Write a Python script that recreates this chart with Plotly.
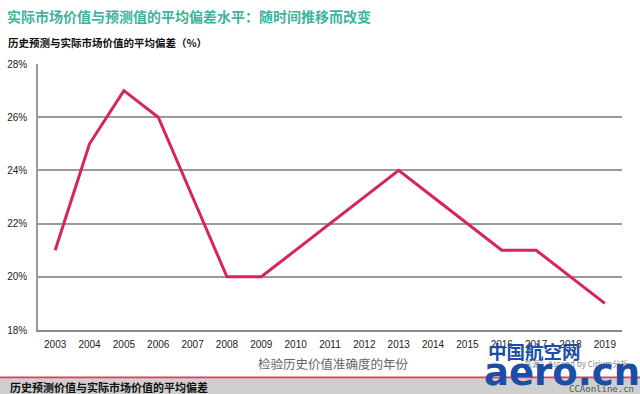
import plotly.graph_objects as go

years = ["2003", "2004", "2005", "2006", "2007", "2008", "2009", "2010", "2011",
         "2012", "2013", "2014", "2015", "2016", "2017", "2018", "2019"]
deviation = [21, 25, 27, 26, 23, 20, 20, 21, 22, 23, 24, 23, 22, 21, 21, 20, 19]
y_ticks = [18, 20, 22, 24, 26, 28]
y_tick_labels = ["18%", "20%", "22%", "24%", "26%", "28%"]

FONT = "Noto Sans CJK SC"

fig = go.Figure()
fig.add_trace(go.Scatter(
    x=years, y=deviation, mode="lines",
    line=dict(color="#D7245E", width=3),
    hoverinfo="skip", showlegend=False,
))

PX0, PX1, PY0, PY1 = 38, 622, 64, 330

fig.update_layout(
    template="none",
    width=640, height=394,
    margin=dict(l=PX0, r=640 - PX1, t=PY0, b=394 - PY1, pad=0),
    paper_bgcolor="white", plot_bgcolor="white",
    font=dict(family="Liberation Sans", color="#333333", size=10),
    xaxis=dict(
        type="category", range=[-0.5, 16.5], automargin=False,
        showgrid=False, showline=True, linecolor="#8a8a8a", linewidth=2,
        ticks="", ticklen=0, ticklabelstandoff=4,
        tickfont=dict(size=10, color="#222222"),
        fixedrange=True,
    ),
    yaxis=dict(
        range=[18, 28], tickvals=y_ticks, ticktext=y_tick_labels, automargin=False,
        showgrid=True, gridcolor="#9a9a9a", gridwidth=1.5,
        showline=True, linecolor="#9a9a9a", linewidth=1.5,
        zeroline=False, ticks="", ticklen=0, ticklabelstandoff=7,
        tickfont=dict(size=10, color="#222222"),
        fixedrange=True,
    ),
    showlegend=False,
)


def px_to_paper(xp, yp):
    return (xp - PX0) / (PX1 - PX0), (PY1 - yp) / (PY1 - PY0)


def text_at(text, xp, yp, size, color, bold=False, xanchor="left", family=FONT):
    xx, yy = px_to_paper(xp, yp)
    fig.add_annotation(
        text=f"<b>{text}</b>" if bold else text,
        x=xx, y=yy, xref="paper", yref="paper",
        xanchor=xanchor, yanchor="middle", showarrow=False,
        font=dict(family=family, size=size, color=color),
    )


# bottom band
x0, _ = px_to_paper(0, 0)
x1, _ = px_to_paper(640, 0)
_, yb0 = px_to_paper(0, 394)
_, yb1 = px_to_paper(0, 379)
_, yr = px_to_paper(0, 377.5)
fig.add_shape(type="rect", xref="paper", yref="paper", x0=x0, x1=x1, y0=yb0, y1=yb1,
              fillcolor="#cfcfcf", line=dict(width=0), layer="below")
fig.add_shape(type="line", xref="paper", yref="paper", x0=x0, x1=x1, y0=yr, y1=yr,
              line=dict(color="#d0455f", width=2))

text_at("实际市场价值与预测值的平均偏差水平：随时间推移而改变", 5, 16, 14, "#3FB39B", bold=True)
text_at("历史预测与实际市场价值的平均偏差（%）", 6, 42, 10.5, "#111111", bold=True)
text_at("检验历史价值准确度的年份", 333, 363, 12.5, "#666666", xanchor="center")
text_at("来源：Ascend by Cirium分析", 522, 363, 8, "#888888")
text_at("历史预测价值与实际市场价值的平均偏差", 8, 387, 11, "#111111", bold=True)

# watermark
text_at("中国航空网", 486, 351, 18.5, "#1d4ea6", bold=True)
text_at("aero.cn", 482, 372, 37, "#1d4ea6", bold=True, family="DejaVu Sans")
text_at("CCAonline.cn", 636, 389, 9, "#555555", xanchor="right", family="DejaVu Sans Mono")

fig.write_html("out.html", config={"displayModeBar": False},
               post_script="document.body.style.margin='0';document.body.style.overflow='hidden';")
